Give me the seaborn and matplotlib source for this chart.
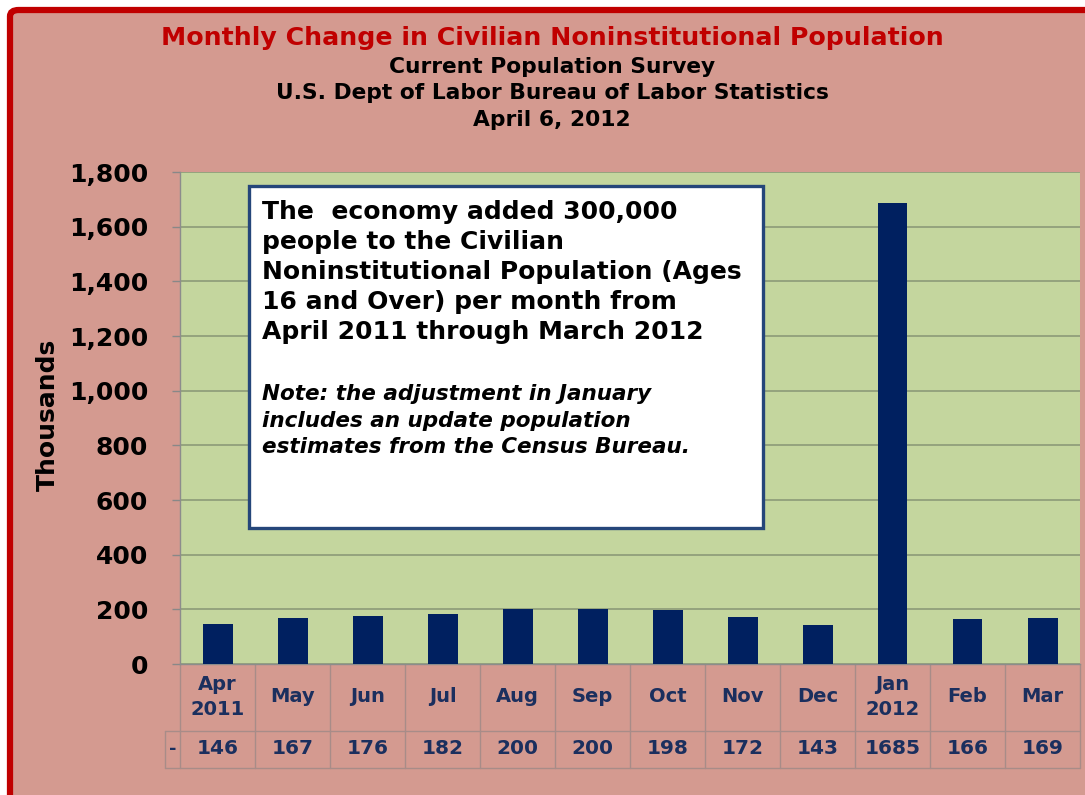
import numpy as np
import pandas as pd
import matplotlib
matplotlib.use("Agg")
import matplotlib.pyplot as plt
import matplotlib.patches as mpatches
import seaborn as sns

# Data (thousands)
months = ["Apr", "May", "Jun", "Jul", "Aug", "Sep", "Oct", "Nov", "Dec", "Jan", "Feb", "Mar"]
month_labels = ["Apr\n2011", "May", "Jun", "Jul", "Aug", "Sep", "Oct", "Nov", "Dec", "Jan\n2012", "Feb", "Mar"]
changes = [146, 167, 176, 182, 200, 200, 198, 172, 143, 1685, 166, 169]
y_ticks = [0, 200, 400, 600, 800, 1000, 1200, 1400, 1600, 1800]

PINK = "#D49A90"
GREEN = "#C4D69E"
NAVY = "#002060"
LABEL_NAVY = "#1B2F5E"
RED = "#C00000"
GRID = "#8C9A78"
TABLE_LINE = "#A88C88"

sns.set_theme(style="white")
plt.rcParams["font.family"] = ["DejaVu Sans"]

W, H = 1085, 795
fig = plt.figure(figsize=(W / 100, H / 100), dpi=100, facecolor="white")

# pink panel with red border (left and top visible)
panel = mpatches.FancyBboxPatch(
    (10 / W, -0.1), 1.2, 1 - 10 / H + 0.1,
    boxstyle="round,pad=0,rounding_size=0.008",
    transform=fig.transFigure, facecolor=PINK, edgecolor=RED, linewidth=4.5,
    zorder=-10)
fig.patches.append(panel)

# titles
fig.text(0.509, 1 - 38 / H, "Monthly Change in Civilian Noninstitutional Population",
         ha="center", va="center", fontsize=18.2, fontweight="bold", color=RED)
fig.text(0.509, 1 - 67 / H, "Current Population Survey",
         ha="center", va="center", fontsize=15.7, fontweight="bold", color="black")
fig.text(0.509, 1 - 93 / H, "U.S. Dept of Labor Bureau of Labor Statistics",
         ha="center", va="center", fontsize=15.7, fontweight="bold", color="black")
fig.text(0.509, 1 - 120 / H, "April 6, 2012",
         ha="center", va="center", fontsize=15.7, fontweight="bold", color="black")

# plot area
x0, x1, ytop, ybot = 180, 1080, 172, 664
ax = fig.add_axes([x0 / W, (H - ybot) / H, (x1 - x0) / W, (ybot - ytop) / H])
ax.set_facecolor(GREEN)

df = pd.DataFrame({"month": months, "change": changes})
sns.barplot(data=df, x="month", y="change", order=months, color=NAVY,
            saturation=1, width=0.4, linewidth=0, ax=ax, zorder=3)

ax.set_xlim(-0.5, len(months) - 0.5)
ax.set_ylim(0, 1800)
ax.set_yticks(y_ticks)
ax.set_yticklabels([f"{v:,}" for v in y_ticks], fontsize=18, fontweight="bold",
                   color="black")
ax.grid(axis="y", color=GRID, linewidth=1.2, zorder=0)
ax.set_axisbelow(True)
ax.tick_params(axis="y", length=6, color="#888888", width=1, pad=17, left=True)

for side in ["top", "right"]:
    ax.spines[side].set_visible(False)
ax.spines["left"].set_color("#8C8C8C")
ax.spines["bottom"].set_color("#8C8C8C")
ax.spines["left"].set_linewidth(1)
ax.spines["bottom"].set_linewidth(1)

ax.set_ylabel("Thousands", fontsize=18, fontweight="bold", color="black")
ax.yaxis.set_label_coords(-0.134, 0.506)
ax.set_xlabel("")

# month row of the data table, as x tick labels
ax.set_xticks(range(len(months)))
ax.set_xticklabels(month_labels, fontsize=14, fontweight="bold", color=LABEL_NAVY,
                   linespacing=1.4)
plt.setp(ax.get_xticklabels(), va="center")
ax.tick_params(axis="x", length=0, pad=23.5)

# data table lines and value row
tr = ax.get_xaxis_transform()
ph = ybot - ytop
row_mid = -(731 - ybot) / ph
row_bot = -(768 - ybot) / ph
val_y = -(749 - ybot) / ph
key_left = -0.5 - 15 / 75
for i in range(len(months) + 1):
    ax.plot([i - 0.5, i - 0.5], [0, row_bot], transform=tr, color=TABLE_LINE,
            lw=1, clip_on=False)
ax.plot([key_left, len(months) - 0.5], [row_mid, row_mid], transform=tr,
        color=TABLE_LINE, lw=1, clip_on=False)
ax.plot([key_left, len(months) - 0.5], [row_bot, row_bot], transform=tr,
        color=TABLE_LINE, lw=1, clip_on=False)
ax.plot([key_left, key_left], [row_mid, row_bot], transform=tr,
        color=TABLE_LINE, lw=1, clip_on=False)
ax.text((key_left - 0.5) / 2, val_y, "-", transform=tr, ha="center", va="center",
        fontsize=13, fontweight="bold", color=LABEL_NAVY)
for i, v in enumerate(changes):
    ax.text(i, val_y, f"{v}", transform=tr, ha="center", va="center",
            fontsize=14.5, fontweight="bold", color=LABEL_NAVY)

# annotation box
bx0, bx1, by0, by1 = 249, 763, 186, 528
box = mpatches.Rectangle(((bx0 - x0) / (x1 - x0), (ybot - by1) / ph),
                         (bx1 - bx0) / (x1 - x0), (by1 - by0) / ph,
                         transform=ax.transAxes, facecolor="white",
                         edgecolor="#25467A", linewidth=2.4, zorder=5)
ax.add_patch(box)

main_text = ("The  economy added 300,000\n"
             "people to the Civilian\n"
             "Noninstitutional Population (Ages\n"
             "16 and Over) per month from\n"
             "April 2011 through March 2012")
ax.text((262 - x0) / (x1 - x0), (ybot - 200) / ph, main_text, transform=ax.transAxes,
        ha="left", va="top", fontsize=18, fontweight="bold", color="black",
        linespacing=1.315, zorder=6)

note_text = ("Note: the adjustment in January\n"
             "includes an update population\n"
             "estimates from the Census Bureau.")
ax.text((262 - x0) / (x1 - x0), (ybot - 384) / ph, note_text, transform=ax.transAxes,
        ha="left", va="top", fontsize=15.5, fontweight="bold", style="italic",
        color="black", linespacing=1.41, zorder=6)

fig.savefig("out.png", dpi=100, facecolor=fig.get_facecolor())
